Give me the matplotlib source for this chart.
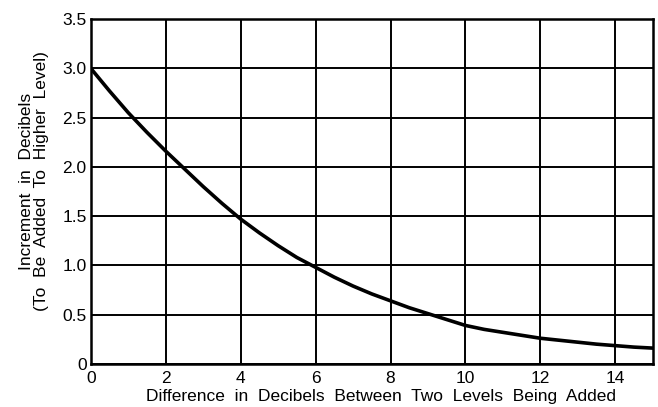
import matplotlib
matplotlib.use("Agg")
import matplotlib.pyplot as plt

plt.rcParams['font.family'] = ['Liberation Sans', 'DejaVu Sans']

# level difference (dB) vs increment to add to higher level (dB)
diff_db = [0, 0.5, 1, 1.5, 2, 2.5, 3, 3.5, 4, 4.5, 5, 5.5, 6, 6.5, 7, 7.5,
           8, 8.5, 9, 9.5, 10, 10.5, 11, 11.5, 12, 12.5, 13, 13.5, 14, 14.5, 15]
increment_db = [3.00, 2.77, 2.55, 2.35, 2.16, 1.98, 1.80, 1.63, 1.47, 1.33,
                1.20, 1.08, 0.98, 0.88, 0.79, 0.71, 0.64, 0.57, 0.51, 0.45,
                0.39, 0.35, 0.32, 0.29, 0.26, 0.24, 0.22, 0.20, 0.185, 0.17, 0.16]

xticks = [0, 2, 4, 6, 8, 10, 12, 14]
yticks = [0, 0.5, 1.0, 1.5, 2.0, 2.5, 3.0, 3.5]
ytick_labels = ["0", "0.5", "1.0", "1.5", "2.0", "2.5", "3.0", "3.5"]

fig = plt.figure(figsize=(6.58, 4.07), dpi=100)
ax = fig.add_axes([0.138, 0.106, 0.854, 0.847])

ax.plot(diff_db, increment_db, color="black", lw=2.6, solid_capstyle="round",
        solid_joinstyle="round")

ax.set_xlim(0, 15)
ax.set_ylim(0, 3.5)
ax.set_xticks(xticks)
ax.set_yticks(yticks)
ax.set_yticklabels(ytick_labels)
ax.tick_params(length=0, labelsize=12.5)
ax.tick_params(axis="x", pad=5)
ax.tick_params(axis="y", pad=3)
ax.grid(True, color="black", lw=1.4)
ax.set_axisbelow(True)
for s in ax.spines.values():
    s.set_linewidth(1.8)

ax.set_xlabel("Difference  in  Decibels  Between  Two  Levels  Being  Added",
              fontsize=12.5)
ax.xaxis.set_label_coords(0.516, -0.072)
ax.set_ylabel("Increment  in  Decibels\n(To  Be  Added  To  Higher  Level)",
              fontsize=12.5, linespacing=0.95)
ax.yaxis.set_label_coords(-0.075, 0.53)

fig.savefig("out.png", dpi=100)
